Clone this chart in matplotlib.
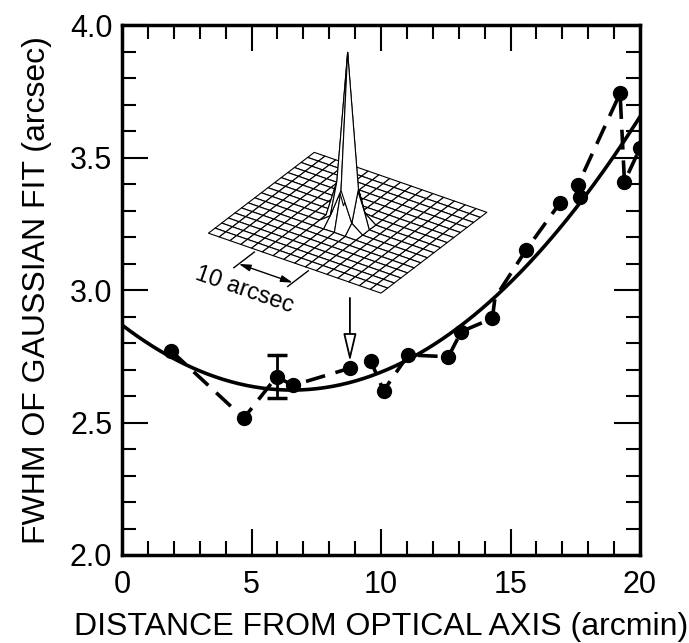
import numpy as np
import matplotlib
matplotlib.use("Agg")
import matplotlib.pyplot as plt
from mpl_toolkits.mplot3d import proj3d

plt.rcParams['font.family'] = ['Liberation Sans', 'DejaVu Sans']

# ==========================
# Data
# ==========================

distance = [1.9, 4.7, 5.97, 6.6, 8.8, 9.6, 10.1, 11.05, 12.6, 13.1,
            14.3, 14.4, 15.6, 16.9, 17.7, 17.6, 19.23, 19.4, 20.0]
fwhm = [2.77, 2.516, 2.673, 2.64, 2.705, 2.733, 2.62, 2.755, 2.748, 2.843,
        2.893, 2.97, 3.151, 3.327, 3.352, 3.396, 3.742, 3.409, 3.535]
hidden_idx = [11]          # point hidden under the fit curve
arrow_idx = 4              # point shown in the inset

err_idx = 2
err_size = 0.08

# quadratic fit  a*x^2 + b*x + c
fit_coeffs = [0.00571, -0.0749, 2.868]

x_ticks = [0, 5, 10, 15, 20]
y_ticks = [2.0, 2.5, 3.0, 3.5, 4.0]

# inset star image
grid_half = 16.0           # arcsec
grid_n = 17
scale_bar = 10             # arcsec
scale_start = -7.0

# ==========================
# Figure
# ==========================

fig = plt.figure(figsize=(6.89, 6.43), dpi=100)
ax = fig.add_axes([122 / 689, 88 / 643, 518 / 689, 530 / 643])

fit_x = np.linspace(0, 20, 200)
ax.plot(fit_x, np.polyval(fit_coeffs, fit_x), color='black', lw=2.6, zorder=3)

markers = [i for i in range(len(distance)) if i not in hidden_idx]
ax.plot(distance, fwhm, color='black', lw=2.6, ls=(0, (5.5, 3)),
        marker='o', markersize=10, markevery=markers, zorder=4,
        dash_capstyle='butt')

ax.errorbar(distance[err_idx], fwhm[err_idx], yerr=err_size, fmt='none',
            ecolor='black', elinewidth=2, capsize=7, capthick=2.5, zorder=4)

ax.annotate('', xy=(distance[arrow_idx], fwhm[arrow_idx] + 0.025),
            xytext=(distance[arrow_idx], 2.97),
            arrowprops=dict(arrowstyle='-|>,head_length=1.7,head_width=0.4',
                            color='black', lw=1.3, fc='white',
                            shrinkA=0, shrinkB=0))

ax.set_xlim(0, 20)
ax.set_ylim(2.0, 4.0)
ax.set_xticks(x_ticks)
ax.set_yticks(y_ticks)
ax.set_xticks(np.arange(0, 21, 1), minor=True)
ax.set_yticks(np.arange(2.0, 4.01, 0.1), minor=True)
ax.set_xticklabels([str(t) for t in x_ticks])
ax.set_yticklabels(['%.1f' % t for t in y_ticks])

ax.tick_params(which='both', direction='in', top=True, right=True,
               width=1.5, labelsize=22)
ax.tick_params(which='major', length=19)
ax.tick_params(which='minor', length=10)
ax.tick_params(axis='x', which='major', pad=11)
ax.tick_params(axis='y', which='major', pad=7)
for s in ax.spines.values():
    s.set_linewidth(2.5)

ax.set_xlabel('DISTANCE FROM OPTICAL AXIS (arcmin)', fontsize=23, va='center')
ax.xaxis.set_label_coords(0.5, -0.135)
ax.set_ylabel('FWHM OF GAUSSIAN FIT (arcsec)', fontsize=23, va='center')
ax.yaxis.set_label_coords(-0.164, 0.5)

# ==========================
# Inset: star image
# ==========================

ax3 = fig.add_axes([0.218, 0.519, 0.56, 0.52], projection='3d')
ax3.set_proj_type('ortho')
ax3.view_init(elev=31, azim=-56)
ax3.set_box_aspect((1.1, 1, 1.05))
ax3.set_axis_off()
ax3.patch.set_alpha(0)
ax3.computed_zorder = False

g = np.linspace(-grid_half, grid_half, grid_n)
X, Y = np.meshgrid(g, g)
sigma = fwhm[arrow_idx] / 2.3548
Z = np.exp(-(X ** 2 + Y ** 2) / (2 * sigma ** 2))
ax3.plot_surface(X, Y, Z, rstride=1, cstride=1, color='white',
                 edgecolor='black', linewidth=0.8, shade=False)
ax3.set_xlim(-grid_half, grid_half)
ax3.set_ylim(-grid_half, grid_half)
ax3.set_zlim(0, 1)

# scale bar below the front-left edge
y_ext = [-grid_half - 0.8, -grid_half - 7.0]
y_bar = -grid_half - 5.5
for xe in [scale_start, scale_start + scale_bar]:
    ax3.plot([xe, xe], y_ext, [0, 0], color='black', lw=1.0, zorder=5)

fig.canvas.draw()
M = ax3.get_proj()
bx, by, _ = proj3d.proj_transform(
    np.array([scale_start, scale_start + scale_bar]),
    np.array([y_bar, y_bar]), np.array([0, 0]), M)
ax3.annotate('', xy=(bx[1], by[1]), xytext=(bx[0], by[0]),
             arrowprops=dict(arrowstyle='<|-|>,head_length=0.7,head_width=0.2',
                             color='black', lw=1.0, shrinkA=0, shrinkB=0))

p0 = ax3.transData.transform((bx[0], by[0]))
p1 = ax3.transData.transform((bx[1], by[1]))
angle = np.degrees(np.arctan2(p1[1] - p0[1], p1[0] - p0[0]))
tx, ty, _ = proj3d.proj_transform(scale_start + scale_bar / 2,
                                  -grid_half - 12.0, 0, M)
ax3.text2D(tx, ty, '10 arcsec', transform=ax3.transData, fontsize=17,
           rotation=angle, rotation_mode='anchor', ha='center', va='center')

fig.savefig('out.png', dpi=100)
